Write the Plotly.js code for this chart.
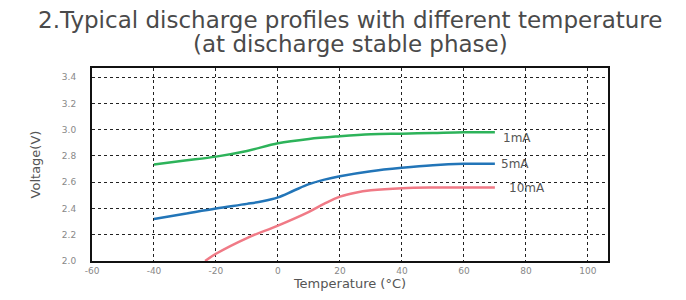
<!DOCTYPE html>
<html><head><meta charset="utf-8">
<script src="https://cdn.plot.ly/plotly-3.0.1.min.js"></script>
<style>body{margin:0;background:#fff}#c{width:686px;height:300px}</style>
</head><body><div id="c"></div>
<script>
const temps1 = [-40, -30, -20, -10, 0, 10, 20, 30, 40, 50, 60, 70];
const v1mA  = [2.735, 2.765, 2.795, 2.838, 2.897, 2.93, 2.95, 2.965, 2.97, 2.975, 2.98, 2.98];
const temps5 = [-40, -30, -20, -10, -5, 0, 5, 10, 15, 20, 30, 40, 50, 60, 70];
const v5mA  = [2.32, 2.36, 2.40, 2.435, 2.455, 2.485, 2.535, 2.585, 2.62, 2.646, 2.684, 2.71, 2.73, 2.74, 2.74];
const temps10 = [-23.5, -20, -10, 0, 10, 15, 20, 25, 30, 40, 50, 60, 70];
const v10mA = [2.0, 2.055, 2.175, 2.27, 2.375, 2.437, 2.49, 2.52, 2.538, 2.555, 2.56, 2.56, 2.56];
const seriesNames = ['1mA', '5mA', '10mA'];
const labelX = [77, 76.5, 80.5];
const labelY = [2.94, 2.736, 2.555];
const xTicks = [-60, -40, -20, 0, 20, 40, 60, 80, 100];
const yTicks = [2.0, 2.2, 2.4, 2.6, 2.8, 3.0, 3.2, 3.4];
const titleLines = ['2.Typical discharge profiles with different temperature', '(at discharge stable phase)'];

const colors = ['#2db35a', '#2275b8', '#f07a86'];
const xs = [temps1, temps5, temps10];
const ys = [v1mA, v5mA, v10mA];
const data = xs.map((x, i) => ({
  x: x, y: ys[i], mode: 'lines', type: 'scatter', name: seriesNames[i],
  line: {color: colors[i], width: 2.5, shape: 'spline', smoothing: 1},
  showlegend: false, hoverinfo: 'skip'
}));

const annotations = seriesNames.map((n, i) => ({
  x: labelX[i], y: labelY[i], xref: 'x', yref: 'y', text: n, showarrow: false,
  font: {family: 'DejaVu Sans', size: 12, color: '#555'}
}));
const titleY = [1.2487, 1.124];
titleLines.forEach((t, i) => annotations.push({
  x: 0.5, y: titleY[i], xref: 'paper', yref: 'paper', xanchor: 'center', yanchor: 'middle',
  text: t, showarrow: false, font: {family: 'DejaVu Sans', size: 23, color: '#4a4a4a'}
}));

const layout = {
  width: 686, height: 300,
  margin: {l: 92, r: 78, t: 68, b: 39},
  paper_bgcolor: '#fff', plot_bgcolor: '#fff',
  xaxis: {range: [-60, 106.5], tickvals: xTicks, ticktext: xTicks.map(String),
    showgrid: true, gridcolor: '#222', griddash: 'dot', gridwidth: 1,
    showline: true, mirror: true, linecolor: '#111', linewidth: 2, zeroline: false,
    ticks: '', tickfont: {family: 'DejaVu Sans', size: 9, color: '#888'},
    title: {text: 'Temperature (°C)', standoff: 4, font: {family: 'DejaVu Sans', size: 13, color: '#555'}}},
  yaxis: {range: [2.0, 3.47], tickvals: yTicks, ticktext: yTicks.map(v => v.toFixed(1)),
    showgrid: true, gridcolor: '#222', griddash: 'dot', gridwidth: 1,
    showline: true, mirror: true, linecolor: '#111', linewidth: 2, zeroline: false,
    ticks: '', ticklabelstandoff: 12, tickfont: {family: 'DejaVu Sans', size: 9, color: '#888'},
    title: {text: 'Voltage(V)', standoff: 18, font: {family: 'DejaVu Sans', size: 13, color: '#555'}}},
  annotations: annotations
};
Plotly.newPlot('c', data, layout, {staticPlot: true});
</script></body></html>
